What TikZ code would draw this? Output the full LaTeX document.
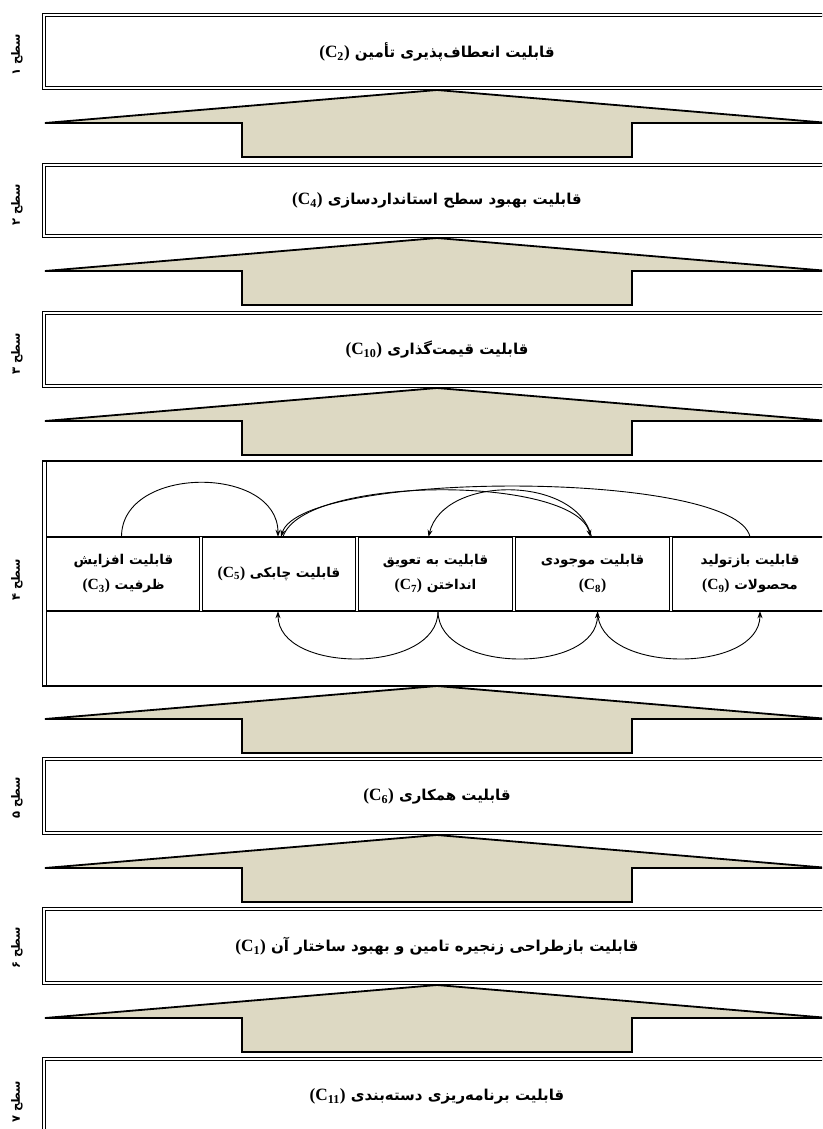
\documentclass[tikz,border=0pt]{standalone}
\usepackage{fontspec}
\usetikzlibrary{arrows.meta}
\TeXXeTstate=1
\newfontfamily\arabicfont[Script=Arabic]{DejaVu Sans}
\newfontfamily\latinfont[Scale=1.15]{Liberation Serif}
\definecolor{tanfill}{HTML}{DDD9C3}
\newcommand\cc[1]{\beginL{\latinfont\bfseries(C\textsubscript{#1})}\endL}
\newcommand\fa[1]{{\arabicfont\bfseries\beginR #1\endR}}
\newcommand\uparr[1]{\draw[bigarr] (45,#1+33) -- (437,#1) -- (829,#1+33) -- (632,#1+33) -- (632,#1+67) -- (242,#1+67) -- (242,#1+33) -- cycle;}
\begin{document}
\begin{tikzpicture}[x=1pt,y=-1pt,
  lvl/.style={draw, double=white, double distance=2.2pt, line width=1.1pt, minimum width=786pt, inner sep=0pt, font=\fontsize{15}{17}\selectfont},
  lab/.style={rotate=90, inner sep=0pt, font=\fontsize{11.5}{13}\selectfont},
  cell/.style={inner sep=0pt, align=center, font=\fontsize{13.5}{25}\selectfont},
  bigarr/.style={draw, line width=1.8pt, fill=tanfill, line join=miter},
  sepline/.style={draw, double=white, double distance=1.6pt, line width=0.9pt},
  arc/.style={line width=0.9pt, -{Stealth[length=7pt,width=5pt]}}]
\useasboundingbox (0,0) rectangle (822,1129);
\clip (0,0) rectangle (822,1129);
% level boxes
\node[lvl, minimum height=73pt] (b1) at (437,51.5) {\fa{قابلیت انعطاف^^^^200cپذیری تأمین \cc{2}}};
\node[lvl, minimum height=71pt] (b2) at (437,200.5) {\fa{قابلیت بهبود سطح استانداردسازی \cc{4}}};
\node[lvl, minimum height=73pt] (b3) at (437,349.5) {\fa{قابلیت قیمت^^^^200cگذاری \cc{10}}};
\node[draw, line width=1.6pt, minimum width=789pt, minimum height=225pt, inner sep=0pt] (b4) at (437,573.5) {};
\draw[line width=1pt] (46,461) -- (46,686);
\node[lvl, minimum height=74pt] (b5) at (437,796) {\fa{قابلیت همکاری \cc{6}}};
\node[lvl, minimum height=74pt] (b6) at (437,946) {\fa{قابلیت بازطراحی زنجیره تامین و بهبود ساختار آن \cc{1}}};
\node[lvl, minimum height=74pt] (b7) at (437,1096) {\fa{قابلیت برنامه^^^^200cریزی دسته^^^^200cبندی \cc{11}}};
% level labels
\node[lab] (s1) at (17,55) {\fa{سطح ۱}};
\node[lab] (s2) at (17,205) {\fa{سطح ۲}};
\node[lab] (s3) at (17,354) {\fa{سطح ۳}};
\node[lab] (s4) at (17,580) {\fa{سطح ۴}};
\node[lab] (s5) at (17,798) {\fa{سطح ۵}};
\node[lab] (s6) at (17,948) {\fa{سطح ۶}};
\node[lab] (s7) at (17,1102) {\fa{سطح ۷}};
% big arrows
\uparr{90}
\uparr{238}
\uparr{388}
\uparr{686}
\uparr{835}
\uparr{985}
% row of level 4
\draw[line width=1.8pt] (46,537) -- (840,537);
\draw[line width=1.8pt] (46,611) -- (840,611);
\draw[sepline] (201,537) -- (201,611);
\draw[sepline] (357,537) -- (357,611);
\draw[sepline] (514,537) -- (514,611);
\draw[sepline] (671,537) -- (671,611);
\node[cell, minimum width=155pt, minimum height=74pt] (c3) at (123.5,574) {\fa{قابلیت افزایش}\\\fa{ظرفیت \cc{3}}};
\node[cell, minimum width=156pt, minimum height=74pt] (c5) at (279,574) {\fa{قابلیت چابکی \cc{5}}};
\node[cell, minimum width=157pt, minimum height=74pt] (c7) at (435.5,574) {\fa{قابلیت به تعویق}\\\fa{انداختن \cc{7}}};
\node[cell, minimum width=157pt, minimum height=74pt] (c8) at (592.5,574) {\fa{قابلیت موجودی}\\\fa{\cc{8}}};
\node[cell, minimum width=158pt, minimum height=74pt] (c9) at (750,574) {\fa{قابلیت بازتولید}\\\fa{محصولات \cc{9}}};
% arcs above
\draw[arc] ([xshift=-2pt]c3.north) .. controls +(0,-72) and +(0,-72) .. ([xshift=-1pt]c5.north);
\draw[arc] (c9.north) .. controls +(-15,-67) and +(20,-67) .. ([xshift=2pt]c5.north);
\draw[arc] ([xshift=4pt]c5.north) .. controls +(20,-62) and +(-15,-62) .. ([xshift=-2pt]c8.north);
\draw[arc] ([xshift=-1pt]c8.north) .. controls +(-15,-62) and +(15,-62) .. ([xshift=-7pt]c7.north);
% arcs below
\draw[arc] ([xshift=2.5pt]c7.south) .. controls +(0,63) and +(0,63) .. ([xshift=-1pt]c5.south);
\draw[arc] ([xshift=2.5pt]c7.south) .. controls +(0,63) and +(0,63) .. ([xshift=5pt]c8.south);
\draw[arc] ([xshift=5pt]c8.south) .. controls +(0,63) and +(0,63) .. ([xshift=10pt]c9.south);
\end{tikzpicture}
\end{document}
